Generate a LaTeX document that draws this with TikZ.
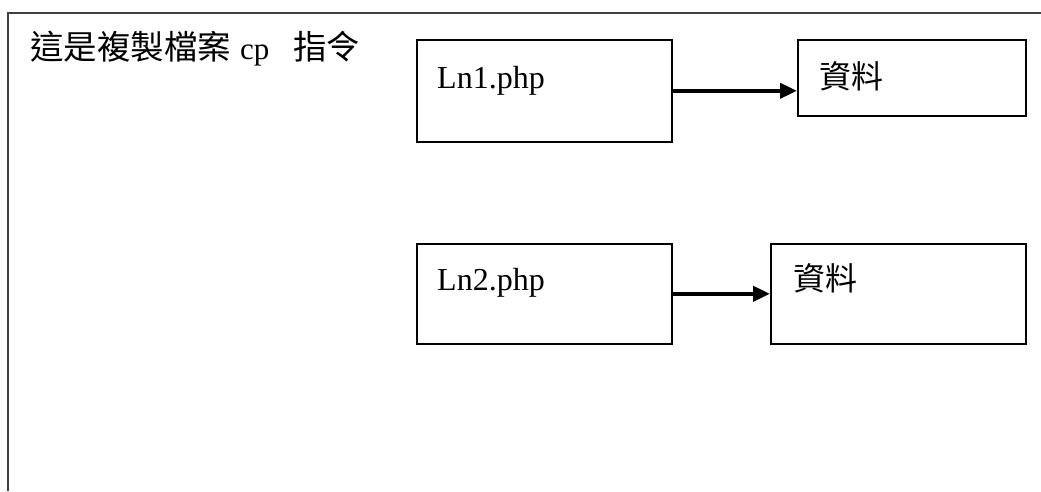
\documentclass[tikz,border=0pt]{standalone}
\usepackage{fontspec}
\setmainfont{Liberation Serif}
\newfontfamily\cjk{Noto Sans CJK TC}
\usetikzlibrary{arrows.meta}

\begin{document}
\begin{tikzpicture}[x=1pt,y=-1pt,
  filebox/.style={draw,line width=1.6pt,anchor=north west,inner sep=0pt},
  lbl/.style={anchor=base west,inner sep=0pt,font=\fontsize{32}{38}\selectfont},
  link/.style={line width=4pt,-{Triangle[length=17pt,width=15pt]}}]
\useasboundingbox (0,0) rectangle (1041,491);
% outer frame, cut off on the right and at the bottom
\draw[line width=2.2pt,black!75] (8,491) -- (8,13) -- (1041,13);
\node[lbl,font=\fontsize{33.5}{40}\selectfont] (title) at (30,59)
  {\cjk 這是複製檔案\hspace{9pt}{\rmfamily\fontsize{31}{36}\selectfont cp}\hspace{24pt}指令};
% first pair
\node[filebox,minimum width=255pt,minimum height=102pt] (ln1) at (416,39) {};
\node[lbl] (ln1name) at (437,88) {Ln1.php};
\node[filebox,minimum width=228pt,minimum height=76pt] (data1) at (797,39) {};
\node[lbl] (data1name) at (819,88) {\cjk 資料};
\draw[link] (ln1.east) -- (ln1.east -| data1.west);
% second pair
\node[filebox,minimum width=255pt,minimum height=100pt] (ln2) at (416,243) {};
\node[lbl] (ln2name) at (437,290) {Ln2.php};
\node[filebox,minimum width=255pt,minimum height=100pt] (data2) at (770,243) {};
\node[lbl] (data2name) at (793,290) {\cjk 資料};
\draw[link] (ln2.east) -- (data2.west);
\end{tikzpicture}
\end{document}
